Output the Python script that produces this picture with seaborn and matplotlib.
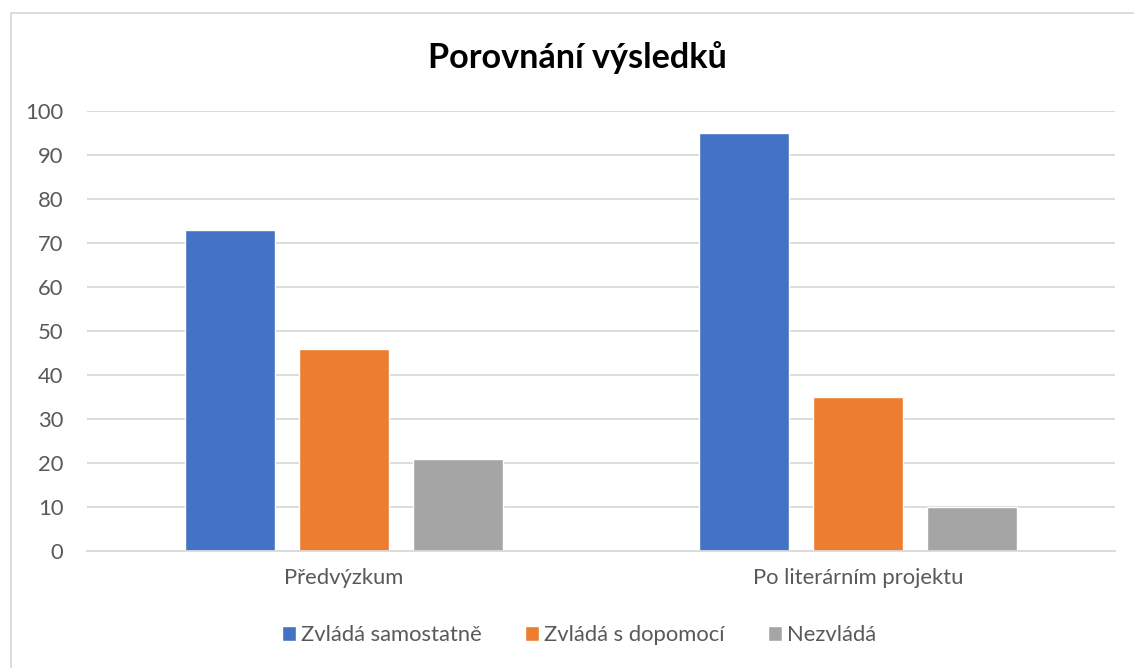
import matplotlib
matplotlib.use("Agg")
import matplotlib.pyplot as plt
from matplotlib.patches import Rectangle
import seaborn as sns
import pandas as pd

# Survey results before and after the literary project
categories = ["Předvýzkum", "Po literárním projektu"]
series_names = ["Zvládá samostatně", "Zvládá s dopomocí", "Nezvládá"]
samostatne = [73, 95]
s_dopomoci = [46, 35]
nezvlada = [21, 10]
colors = ["#4472C4", "#ED7D31", "#A5A5A5"]
y_ticks = [0, 10, 20, 30, 40, 50, 60, 70, 80, 90, 100]

df = pd.DataFrame({
    "kategorie": categories * 3,
    "serie": [series_names[0]] * 2 + [series_names[1]] * 2 + [series_names[2]] * 2,
    "hodnota": samostatne + s_dopomoci + nezvlada,
})

sns.set_theme(style="white")
plt.rcParams["font.family"] = ["Lato", "DejaVu Sans"]
text_color = "#595959"
fs = 15.8

W, H = 1134, 668
fig = plt.figure(figsize=(W / 100, H / 100), dpi=100)
ax = fig.add_axes([87 / W, 1 - 551 / H, (1115 - 87) / W, (551 - 111) / H])

sns.barplot(data=df, x="kategorie", y="hodnota", hue="serie",
            hue_order=series_names, order=categories, palette=colors,
            width=0.665, gap=0.21, saturation=1, ax=ax, legend=True)

ax.set_ylim(0, 100)
ax.set_xlim(-0.5, 1.5)
ax.set_yticks(y_ticks)
ax.yaxis.grid(True, color="#D9D9D9", linewidth=1.3)
ax.set_axisbelow(True)
for side in ["top", "right", "left"]:
    ax.spines[side].set_visible(False)
ax.spines["bottom"].set_color("#D9D9D9")
ax.spines["bottom"].set_linewidth(1.3)
ax.tick_params(axis="both", length=0, labelsize=fs, colors=text_color)
ax.tick_params(axis="y", pad=17)
ax.tick_params(axis="x", pad=12)
for lbl in ax.get_yticklabels():
    lbl.set_horizontalalignment("right")
ax.set_xlabel("")
ax.set_ylabel("")

fig.text(577 / W, 1 - 58 / H, "Porovnání výsledků", ha="center", va="center",
         fontsize=24.6, fontweight="bold", color="#000000")

handles, labels = ax.get_legend_handles_labels()
ax.legend_.remove()
fig.legend(handles, labels, loc="center", bbox_to_anchor=(579 / W, 1 - 635 / H),
           ncol=3, frameon=False, fontsize=fs, labelcolor=text_color,
           handlelength=0.64, handleheight=0.64, handletextpad=0.2,
           columnspacing=2.0)

# Chart area border (right and bottom edges fall outside the canvas)
fig.patches.append(Rectangle((11 / W, -0.1), 1.2, 1 - 13 / H + 0.1,
                             transform=fig.transFigure, fill=False,
                             edgecolor="#D9D9D9", linewidth=1.3))

fig.savefig("out.png", dpi=100, facecolor="white")
